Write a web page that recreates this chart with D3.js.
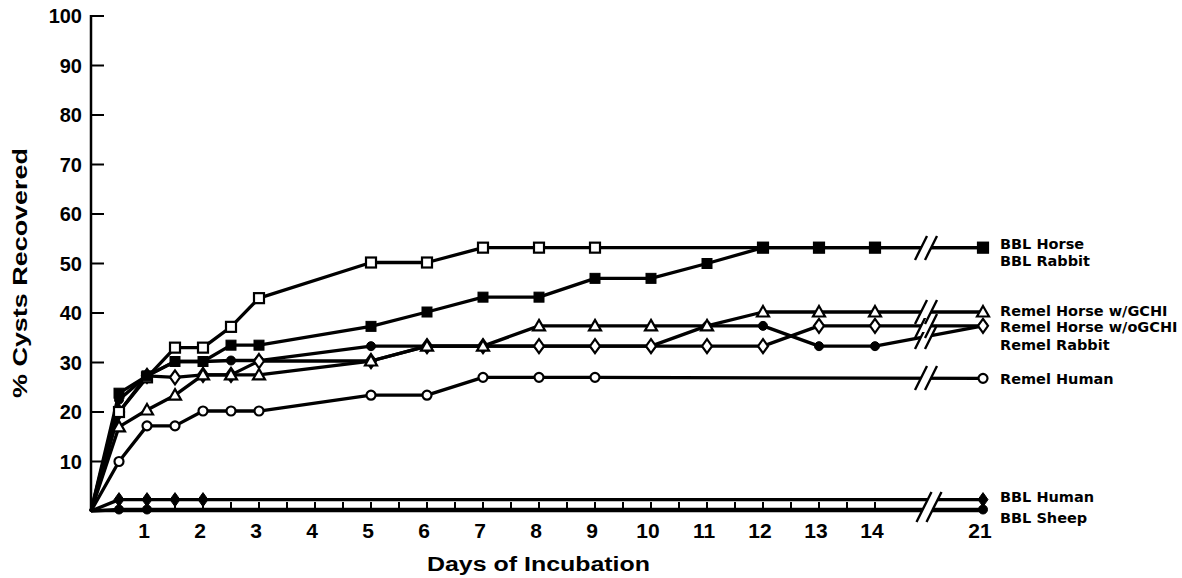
<!DOCTYPE html>
<html>
<head>
<meta charset="utf-8">
<script src="https://cdn.jsdelivr.net/npm/d3@7"></script>
<style>
  body { margin: 0; background: #fff; }
  text { font-family: "Liberation Sans", Arial, sans-serif; font-weight: bold; fill: #000; }
  .slabel { font-family: "DejaVu Sans", sans-serif; }
</style>
</head>
<body>
<svg id="chart" width="1182" height="578"></svg>
<script>
// days sampled (null = no reading that day)
const days = [0, 0.5, 1, 1.5, 2, 2.5, 3, 5, 6, 7, 8, 9, 10, 11, 12, 13, 14, 21];

const bblHorse        = [0, 20, 27, 33, 33, 37.2, 43, 50.2, 50.2, 53.2, 53.2, 53.2, null, null, 53.2, 53.2, 53.2, 53.2];
const bblRabbit       = [0, 23.8, 27.3, 30.2, 30.2, 33.5, 33.5, 37.3, 40.2, 43.2, 43.2, 47, 47, 50, 53.2, 53.2, 53.2, 53.2];
const remelHorseGchi  = [0, 17, 20.4, 23.4, 27.5, 27.5, 27.5, 30.3, 33.3, 33.3, 37.4, 37.4, 37.4, 37.4, 40.2, 40.2, 40.2, 40.2];
const remelHorseNoG   = [0, 20, 27.3, 27, 27.5, 27.5, 30.3, 30.3, 33.3, 33.3, 33.3, 33.3, 33.3, 33.3, 33.3, 37.4, 37.4, 37.4];
const remelRabbit     = [0, 22.5, 27.3, 30.2, 30.2, 30.4, 30.4, 33.3, 33.3, 33.3, 33.3, 33.3, 33.3, 37.4, 37.4, 33.3, 33.3, 37.4];
const remelHuman      = [0, 10, 17.2, 17.2, 20.2, 20.2, 20.2, 23.4, 23.4, 27, 27, 27, null, null, null, null, null, 26.8];
const bblHuman        = [0, 2.3, 2.3, 2.3, 2.3, null, null, null, null, null, null, null, null, null, null, null, null, 2.3];
const bblSheep        = [0, 0.3, 0.3, null, null, null, null, null, null, null, null, null, null, null, null, null, null, 0.3];

const xTicks = [1, 2, 3, 4, 5, 6, 7, 8, 9, 10, 11, 12, 13, 14, 21];
const yTicks = [10, 20, 30, 40, 50, 60, 70, 80, 90, 100];

// series in drawing order (later ones sit on top)
const series = [
  { name: "Remel Rabbit",        values: remelRabbit,    marker: "circle",   filled: true },
  { name: "Remel Horse w/oGCHI", values: remelHorseNoG,  marker: "diamond",  filled: false },
  { name: "Remel Horse w/GCHI",  values: remelHorseGchi, marker: "triangle", filled: false },
  { name: "BBL Horse",           values: bblHorse,       marker: "square",   filled: false },
  { name: "BBL Rabbit",          values: bblRabbit,      marker: "square",   filled: true },
  { name: "Remel Human",         values: remelHuman,     marker: "circle",   filled: false },
  { name: "BBL Sheep",           values: bblSheep,       marker: "circle",   filled: true },
  { name: "BBL Human",           values: bblHuman,       marker: "diamond",  filled: true }
];

// label vertical nudges from the series end point
const labelShift = {
  "BBL Horse": -4, "BBL Rabbit": 13, "Remel Horse w/GCHI": -1, "Remel Horse w/oGCHI": 1,
  "Remel Rabbit": 19, "Remel Human": 0, "BBL Human": -3, "BBL Sheep": 8
};

const svg = d3.select("#chart");

// piecewise x scale with a break between 14 and 21
const x = d3.scaleLinear().domain([0, 14, 21]).range([91, 875, 983]);
const y = d3.scaleLinear().domain([0, 100]).range([511, 16]);
const breakX = 926;
const breakDay = x.invert(breakX);

///* Axes *///
svg.append("line")
  .attr("x1", x(0)).attr("x2", x(0))
  .attr("y1", y(100) - 1).attr("y2", y(0) + 1)
  .attr("stroke", "#000").attr("stroke-width", 2.5);

svg.selectAll(".ytick")
  .data(yTicks)
  .enter().append("line")
  .attr("class", "ytick")
  .attr("x1", x(0)).attr("x2", x(0) + 13)
  .attr("y1", d => y(d)).attr("y2", d => y(d))
  .attr("stroke", "#000").attr("stroke-width", 2);

svg.selectAll(".ylabel")
  .data(yTicks)
  .enter().append("text")
  .attr("class", "ylabel")
  .attr("x", 82)
  .attr("y", d => y(d))
  .attr("dy", "0.36em")
  .attr("text-anchor", "end")
  .style("font-size", "20px")
  .text(d => d);

// x axis line
svg.append("line")
  .attr("x1", x(0)).attr("x2", x(21))
  .attr("y1", y(0)).attr("y2", y(0))
  .attr("stroke", "#000").attr("stroke-width", 2.5);

const halfDays = d3.range(0.5, 14.01, 0.5);
svg.selectAll(".xtick")
  .data(halfDays)
  .enter().append("line")
  .attr("class", "xtick")
  .attr("x1", d => x(d)).attr("x2", d => x(d))
  .attr("y1", y(0)).attr("y2", y(0) - 9)
  .attr("stroke", "#000").attr("stroke-width", 2);

svg.selectAll(".xlabel")
  .data(xTicks)
  .enter().append("text")
  .attr("class", "xlabel")
  .attr("x", d => x(d) - 3)
  .attr("y", 538)
  .attr("text-anchor", "middle")
  .style("font-size", "21px")
  .text(d => d);

svg.append("text")
  .attr("x", 427).attr("y", 571)
  .attr("textLength", 223)
  .attr("lengthAdjust", "spacingAndGlyphs")
  .style("font-size", "20px")
  .text("Days of Incubation");

svg.append("text")
  .attr("transform", "translate(27, 398) rotate(-90)")
  .attr("textLength", 250)
  .attr("lengthAdjust", "spacingAndGlyphs")
  .style("font-size", "20px")
  .text("% Cysts Recovered");

///* Lines *///
const line = d3.line().x(d => x(d.day)).y(d => y(d.v));
const pts = s => days.map((d, i) => ({ day: d, v: s.values[i] })).filter(p => p.v !== null);

svg.selectAll(".series")
  .data(series)
  .enter().append("path")
  .attr("class", "series")
  .attr("d", s => line(pts(s)))
  .attr("fill", "none")
  .attr("stroke", "#000")
  .attr("stroke-width", 3.3)
  .attr("stroke-linejoin", "round");

///* Break marks *///
function crossY(s) {
  const p = pts(s);
  for (let i = 1; i < p.length; i++) {
    if (p[i - 1].day <= breakDay && p[i].day >= breakDay) {
      const t = (breakDay - p[i - 1].day) / (p[i].day - p[i - 1].day);
      return y(p[i - 1].v + t * (p[i].v - p[i - 1].v));
    }
  }
  return null;
}
let breakYs = series.map(crossY).filter(v => v !== null && v < y(0) - 20);
breakYs = Array.from(new Set(breakYs.map(v => Math.round(v))));

function drawBreak(cx, cy, half, gap) {
  const g = svg.append("g");
  g.append("polygon")
    .attr("points", [[cx - 5 - gap / 2, cy + gap], [cx - 5 + gap / 2, cy - gap], [cx + 5 + gap / 2, cy - gap], [cx + 5 - gap / 2, cy + gap]].join(" "))
    .attr("fill", "#fff");
  [-5, 5].forEach(off => {
    g.append("line")
      .attr("x1", cx + off - half / 2).attr("y1", cy + half)
      .attr("x2", cx + off + half / 2).attr("y2", cy - half)
      .attr("stroke", "#000").attr("stroke-width", 2.4);
  });
}
breakYs.forEach(cy => drawBreak(breakX, cy, 12, 6));
// axis + bottom series share one break
drawBreak(breakX + 3, y(0) - 4, 15, 10);

///* Markers *///
function marker(g, type, filled) {
  const fill = filled ? "#000" : "#fff";
  let el;
  if (type === "square") {
    el = g.append("rect").attr("x", -5).attr("y", -5).attr("width", 10).attr("height", 10);
  } else if (type === "circle") {
    el = g.append("circle").attr("r", 4.5);
  } else if (type === "triangle") {
    el = g.append("path").attr("d", "M0,-6L6,4.5L-6,4.5Z");
  } else {
    el = g.append("path").attr("d", "M0,-7L5,0L0,7L-5,0Z");
  }
  el.attr("fill", fill).attr("stroke", "#000").attr("stroke-width", filled ? 1 : 2.2);
}

series.forEach(s => {
  pts(s).filter(p => p.day > 0).forEach(p => {
    const g = svg.append("g").attr("transform", `translate(${x(p.day)},${y(p.v)})`);
    marker(g, s.marker, s.filled);
  });
});

///* Labels *///
svg.selectAll(".slabel")
  .data(series)
  .enter().append("text")
  .attr("class", "slabel")
  .attr("x", 1000)
  .attr("y", s => y(s.values[s.values.length - 1]) + labelShift[s.name])
  .attr("dy", "0.36em")
  .style("font-size", "14.5px")
  .text(s => s.name);
</script>
</body>
</html>
